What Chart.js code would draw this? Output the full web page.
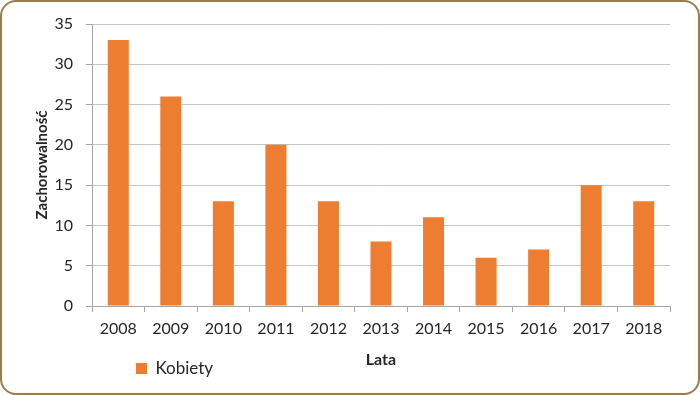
<!DOCTYPE html>
<html>
<head>
<meta charset="utf-8">
<script src="https://cdn.jsdelivr.net/npm/chart.js@4"></script>
<style>
    body { margin: 0; background: #fff; }
    #wrap { position: relative; width: 700px; height: 395px; }
    #frame {
        position: absolute; left: 0; top: 0; width: 700px; height: 395px;
        box-sizing: border-box; border: 2px solid #9c7c4e; border-radius: 16px;
        pointer-events: none;
    }
</style>
</head>
<body>
<div id="wrap">
    <canvas id="chart" width="700" height="395"></canvas>
    <div id="frame"></div>
</div>
<script>
const years = ['2008', '2009', '2010', '2011', '2012', '2013', '2014', '2015', '2016', '2017', '2018'];
const cases = [33, 26, 13, 20, 13, 8, 11, 6, 7, 15, 13];
const seriesLabel = 'Kobiety';
const xTitle = 'Lata';
const yTitle = 'Zachorowalność';
const yMin = 0;
const yMax = 35;
const yStep = 5;

const FONT = 'Lato, "Open Sans", sans-serif';
const TEXT_COLOR = '#262626';

// moves the legend a bit to the right, like in the original
const legendShift = {
    id: 'legendShift',
    afterLayout(chart) {
        const legend = chart.legend;
        if (!legend) {
            return;
        }
        legend.left += 40;
        legend.right += 40;
        legend.top -= 8;
        legend.bottom -= 8;
    }
};

new Chart(document.getElementById('chart'), {
    type: 'bar',
    data: {
        labels: years,
        datasets: [
            {
                label: seriesLabel,
                data: cases,
                backgroundColor: '#ed7d31',
                borderWidth: 0,
                categoryPercentage: 1,
                barPercentage: 0.4
            }
        ]
    },
    options: {
        responsive: false,
        animation: false,
        layout: {
            padding: { left: 29, top: 24, right: 30, bottom: 0 }
        },
        plugins: {
            legend: {
                position: 'bottom',
                align: 'start',
                fullSize: false,
                labels: {
                    boxWidth: 11,
                    boxHeight: 11,
                    padding: 4,
                    color: TEXT_COLOR,
                    font: { family: FONT, size: 17 }
                }
            },
            tooltip: { enabled: false }
        },
        scales: {
            x: {
                afterFit: (scale) => { scale.height = 58; },
                grid: {
                    drawOnChartArea: false,
                    drawTicks: true,
                    tickLength: 6,
                    color: '#a6a6a6'
                },
                border: { color: '#a6a6a6' },
                ticks: {
                    padding: 7,
                    color: TEXT_COLOR,
                    font: { family: FONT, size: 16 }
                },
                title: {
                    display: true,
                    text: xTitle,
                    color: TEXT_COLOR,
                    padding: { top: 9, bottom: -5 },
                    font: { family: FONT, size: 16, weight: 'bold' }
                }
            },
            y: {
                min: yMin,
                max: yMax,
                afterFit: (scale) => { scale.width = 63; },
                ticks: {
                    stepSize: yStep,
                    padding: 13,
                    color: TEXT_COLOR,
                    font: { family: FONT, size: 16 }
                },
                grid: {
                    color: '#c4c4c4',
                    tickLength: 6,
                    tickColor: '#a6a6a6'
                },
                border: { color: '#a6a6a6' },
                title: {
                    display: true,
                    text: yTitle,
                    color: TEXT_COLOR,
                    padding: { top: 4, bottom: 5 },
                    font: { family: FONT, size: 15, weight: 'bold' }
                }
            }
        }
    },
    plugins: [legendShift]
});
</script>
</body>
</html>
